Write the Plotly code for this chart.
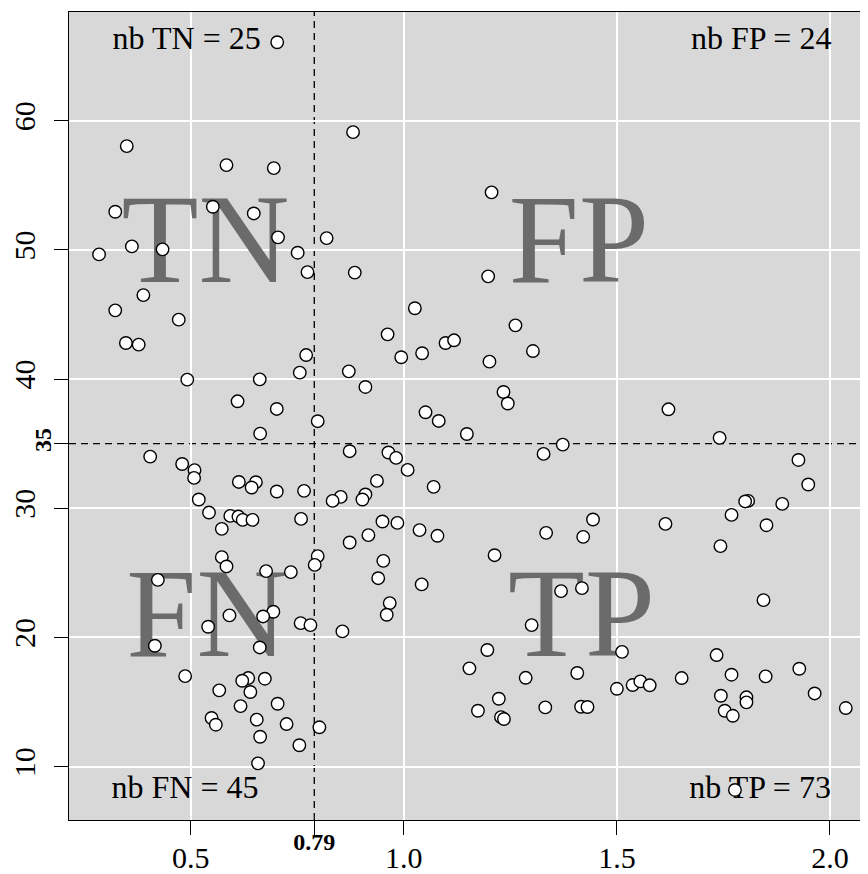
import numpy as np
import plotly.graph_objects as go

# ---------------- data ----------------
ratio = [
    # upper-left
    0.703, 0.350, 0.584, 0.695, 0.323, 0.552, 0.648, 0.705, 0.285, 0.362,
    0.434, 0.751, 0.774, 0.389, 0.323, 0.472, 0.348, 0.378, 0.771, 0.756,
    0.492, 0.662, 0.610, 0.702, 0.663,
    # upper-right
    0.881, 0.819, 0.885, 0.871, 0.910, 0.798, 1.206, 1.198, 1.026, 0.962,
    1.262, 1.303, 0.994, 1.043, 1.098, 1.118, 1.201, 1.234, 1.244, 1.051,
    1.082, 1.148, 1.621, 1.741,
    # lower-left
    0.405, 0.480, 0.509, 0.508, 0.613, 0.653, 0.643, 0.702, 0.766, 0.519,
    0.543, 0.593, 0.612, 0.622, 0.645, 0.759, 0.573, 0.573, 0.584, 0.677,
    0.735, 0.423, 0.591, 0.694, 0.670, 0.541, 0.758, 0.781, 0.416, 0.662,
    0.487, 0.635, 0.621, 0.674, 0.640, 0.567, 0.617, 0.704, 0.549, 0.559,
    0.655, 0.725, 0.663, 0.755, 0.658,
    # lower-right
    0.798, 0.791, 0.802, 0.873, 0.852, 0.833, 0.873, 0.856, 1.373, 1.328,
    0.964, 0.982, 1.009, 0.937, 1.070, 0.910, 0.903, 0.950, 0.985, 0.917,
    1.037, 1.079, 1.334, 1.421, 1.444, 1.213, 0.952, 0.940, 1.042, 1.369,
    1.418, 0.967, 0.960, 1.300, 1.512, 1.196, 1.154, 1.286, 1.407, 1.500,
    1.537, 1.223, 1.174, 1.228, 1.235, 1.332, 1.416, 1.431, 1.926, 1.949,
    1.808, 1.801, 1.888, 1.769, 1.614, 1.851, 1.743, 1.844, 1.734, 1.928,
    1.769, 1.849, 1.652, 1.555, 1.577, 1.744, 1.804, 1.804, 1.964, 1.753,
    1.772, 2.037, 1.777,
]
score = [
    # upper-left
    66.07, 58.03, 56.56, 56.33, 52.95, 53.34, 52.82, 50.97, 49.65, 50.27,
    50.04, 49.78, 48.28, 46.50, 45.32, 44.60, 42.79, 42.67, 41.86, 40.50,
    39.96, 39.98, 38.28, 37.69, 35.78,
    # upper-right
    59.11, 50.91, 48.24, 40.60, 39.39, 36.74, 54.45, 47.95, 45.48, 43.46,
    44.16, 42.17, 41.69, 42.00, 42.79, 43.00, 41.35, 39.00, 38.11, 37.43,
    36.76, 35.75, 37.66, 35.45,
    # lower-left
    34.00, 33.43, 32.95, 32.35, 32.04, 32.02, 31.61, 31.30, 31.35, 30.68,
    29.67, 29.41, 29.36, 29.10, 29.10, 29.18, 28.41, 26.22, 25.50, 25.14,
    25.06, 24.46, 21.71, 21.99, 21.63, 20.83, 21.11, 20.96, 19.36, 19.23,
    17.01, 16.86, 16.65, 16.81, 15.78, 15.91, 14.69, 14.87, 13.77, 13.25,
    13.64, 13.30, 12.32, 11.66, 10.26,
    # lower-right
    26.30, 25.62, 13.05, 34.42, 30.88, 30.57, 27.35, 20.47, 34.93, 34.21,
    34.32, 33.90, 32.97, 32.12, 31.66, 31.07, 30.68, 28.98, 28.87, 27.92,
    28.31, 27.87, 28.10, 27.79, 29.13, 26.37, 25.93, 24.59, 24.11, 23.59,
    23.82, 22.66, 21.76, 20.96, 18.89, 19.03, 17.61, 16.88, 17.25, 16.03,
    16.32, 15.26, 14.33, 13.84, 13.69, 14.59, 14.64, 14.62, 33.74, 31.84,
    30.57, 30.53, 30.34, 29.49, 28.79, 28.69, 27.07, 22.89, 18.64, 17.58,
    17.12, 16.99, 16.86, 16.60, 16.30, 15.49, 15.37, 14.98, 15.67, 14.33,
    13.94, 14.54, 8.20,
]
THRESH_X = 0.79
THRESH_Y = 35
x_tickvals = [0.5, 1.0, 1.5, 2.0]
x_ticktext = ["0.5", "1.0", "1.5", "2.0"]
y_tickvals = [10, 20, 30, 40, 50, 60]
y_ticktext = ["10", "20", "30", "40", "50", "60"]
quadrants = ["TN", "FP", "FN", "TP"]

# ---------------- layout constants ----------------
X_RANGE = [0.2145, 2.0892]
Y_RANGE = [5.875, 68.41]
big_x = [0.535, 1.411, 0.538, 1.417]
big_y = [49.96, 49.93, 21.02, 21.02]
cnt_x = [0.4906, 1.8386, 0.4866, 1.836]
cnt_y = [66.17, 66.17, 8.19, 8.22]
SERIF = "Liberation Serif"

x = np.array(ratio)
y = np.array(score)
counts = {
    "TN": int(((x < THRESH_X) & (y > THRESH_Y)).sum()),
    "FP": int(((x >= THRESH_X) & (y > THRESH_Y)).sum()),
    "FN": int(((x < THRESH_X) & (y <= THRESH_Y)).sum()),
    "TP": int(((x >= THRESH_X) & (y <= THRESH_Y)).sum()),
}
count_text = [f"nb {q} = {counts[q]}" for q in quadrants]

fig = go.Figure()
fig.add_trace(go.Scatter(
    x=big_x, y=big_y, mode="text", text=quadrants, textposition="middle center",
    textfont=dict(family=SERIF, size=126, color="#6b6b6b"),
    hoverinfo="skip", cliponaxis=False,
))
fig.add_trace(go.Scatter(
    x=cnt_x, y=cnt_y, mode="text", text=count_text, textposition="middle center",
    textfont=dict(family=SERIF, size=32, color="black"),
    hoverinfo="skip", cliponaxis=False,
))
fig.add_trace(go.Scatter(
    x=ratio, y=score, mode="markers",
    marker=dict(size=12.5, color="white", line=dict(color="black", width=1.4)),
    cliponaxis=False,
))
fig.add_trace(go.Scatter(
    x=[THRESH_X], y=[THRESH_Y], xaxis="x2", yaxis="y2", mode="markers",
    marker=dict(opacity=0), hoverinfo="skip",
))

dash_line = dict(color="black", width=1.3, dash="7px,5px")
fig.add_shape(type="line", xref="x", yref="paper", x0=THRESH_X, x1=THRESH_X,
              y0=0, y1=1, line=dash_line, layer="between")
fig.add_shape(type="line", xref="paper", yref="y", x0=0, x1=1,
              y0=THRESH_Y, y1=THRESH_Y, line=dash_line, layer="between")

axis_common = dict(
    ticks="outside", ticklen=14, tickwidth=1.3, tickcolor="black",
    zeroline=False, showline=True, linecolor="black", linewidth=1.3,
    showgrid=True, gridcolor="white", gridwidth=1.5,
    tickfont=dict(family=SERIF, size=30, color="black"),
)
# the page body has an 8px margin: figure is 860x866 so it ends at the window edge
fig.update_layout(
    template="none",
    width=860, height=866,
    margin=dict(l=61, r=0, t=4, b=54),
    paper_bgcolor="white", plot_bgcolor="#d8d8d8",
    showlegend=False,
    xaxis=dict(range=X_RANGE, tickmode="array", tickvals=x_tickvals,
               ticktext=x_ticktext, mirror=True, ticklabelstandoff=-3,
               **axis_common),
    yaxis=dict(range=Y_RANGE, tickmode="array", tickvals=y_tickvals,
               ticktext=y_ticktext, tickangle=-90, mirror=False,
               ticklabelstandoff=7, **axis_common),
    xaxis2=dict(range=X_RANGE, overlaying="x", anchor="y2", side="bottom",
                tickmode="array", tickvals=[THRESH_X], ticktext=[f"{THRESH_X:.2f}"],
                ticks="outside", ticklen=14, tickwidth=1.3, tickcolor="black",
                showgrid=False, zeroline=False, showline=False,
                ticklabelstandoff=-14,
                tickfont=dict(family=SERIF, size=24, color="black", weight="bold")),
    yaxis2=dict(range=Y_RANGE, overlaying="y", anchor="x2", side="left",
                tickmode="array", tickvals=[THRESH_Y], ticktext=[str(THRESH_Y)],
                tickangle=-90, ticks="outside", ticklen=14, tickwidth=1.3,
                tickcolor="black", showgrid=False, zeroline=False, showline=False,
                ticklabelstandoff=-7,
                tickfont=dict(family=SERIF, size=24, color="black", weight="bold")),
)
fig.write_html("out.html")
